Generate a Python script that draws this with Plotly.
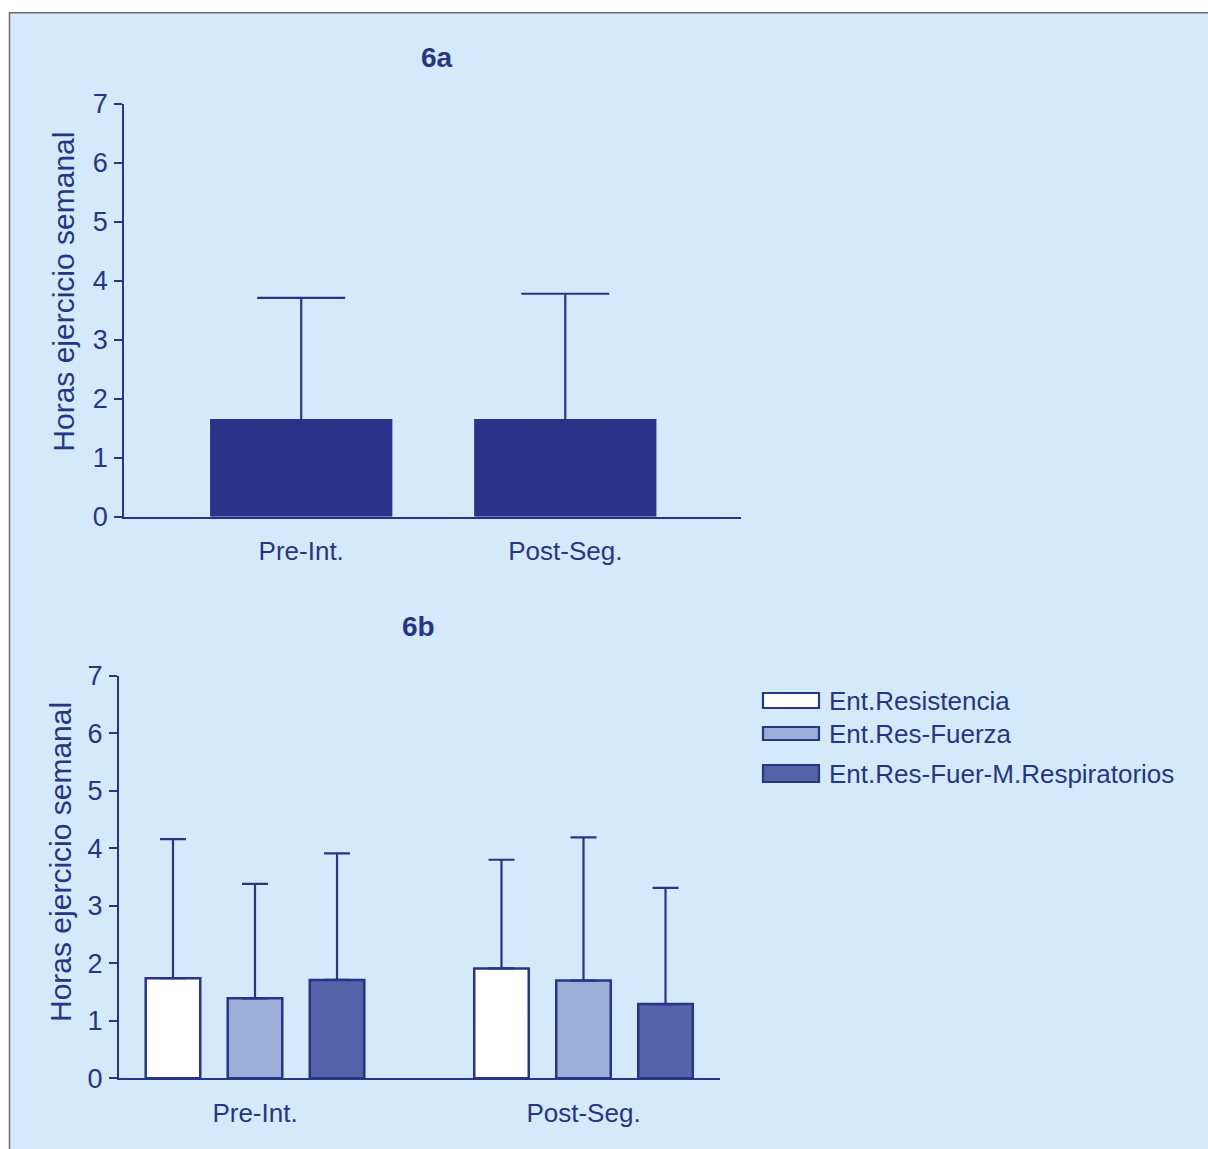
import plotly.graph_objects as go

# ---- data -----------------------------------------------------------------
categories = ["Pre-Int.", "Post-Seg."]

# 6a: total weekly exercise hours (mean and SD)
total_mean = [1.63, 1.63]
total_sd = [2.08, 2.15]

# 6b: weekly exercise hours by training group (mean and SD)
series_names = ["Ent.Resistencia", "Ent.Res-Fuerza", "Ent.Res-Fuer-M.Respiratorios"]
resistencia_mean = [1.74, 1.91]
resistencia_sd = [2.42, 1.89]
fuerza_mean = [1.39, 1.70]
fuerza_sd = [1.99, 2.49]
respiratorios_mean = [1.71, 1.29]
respiratorios_sd = [2.20, 2.02]

y_ticks = [0, 1, 2, 3, 4, 5, 6, 7]
y_title = "Horas ejercicio semanal"
panel_titles = ["6a", "6b"]

# ---- style ----------------------------------------------------------------
W, H = 1208, 1149
FONT = "Liberation Sans, Arial, sans-serif"
NAVY = "#283587"
BAR_6A = "#283389"
BG = "#d4eafa"
series_colors = ["#ffffff", "#9aaed8", "#5462a8"]


def px(x):
    return x / W


def py(y):
    return 1 - y / H


fig = go.Figure()

# the outline in the fill colour hides the lower error-bar cap on the bar top
fig.add_trace(go.Bar(
    x=categories, y=total_mean, width=0.679,
    marker=dict(color=BAR_6A, line=dict(color=BAR_6A, width=3)),
    error_y=dict(type="data", symmetric=False, array=total_sd,
                 arrayminus=[0] * len(total_sd),
                 color=NAVY, thickness=2.2, width=44),
    xaxis="x", yaxis="y", showlegend=False,
))

for name, mean, sd, color in zip(
        series_names,
        [resistencia_mean, fuerza_mean, respiratorios_mean],
        [resistencia_sd, fuerza_sd, respiratorios_sd],
        series_colors):
    fig.add_trace(go.Bar(
        x=categories, y=mean, name=name,
        marker=dict(color=color, line=dict(color=NAVY, width=2.5)),
        error_y=dict(type="data", symmetric=False, array=sd,
                     arrayminus=[0] * len(sd),
                     color=NAVY, thickness=2.2, width=13),
        xaxis="x2", yaxis="y2", showlegend=False,
    ))

xcommon = dict(
    type="category", showline=True, linecolor=NAVY, linewidth=2.2,
    ticks="outside", ticklen=10, tickcolor="rgba(0,0,0,0)",
    tickfont=dict(size=26, color=NAVY, family=FONT),
    showgrid=False, zeroline=False, automargin=False, fixedrange=True,
)
ycommon = dict(
    range=[0, 7], tickvals=y_ticks, showline=True, linecolor=NAVY,
    linewidth=2.2, ticks="outside", ticklen=8, tickwidth=2.2,
    tickcolor=NAVY, ticklabelstandoff=1,
    tickfont=dict(size=27, color=NAVY, family=FONT),
    showgrid=False, zeroline=False, automargin=False, fixedrange=True,
)

fig.update_layout(
    width=W, height=H, autosize=False,
    margin=dict(l=0, r=0, t=0, b=0, pad=0),
    paper_bgcolor="#ffffff", plot_bgcolor="rgba(0,0,0,0)",
    font=dict(family=FONT, color=NAVY),
    barmode="group", bargap=0.251, bargroupgap=0.335,
    xaxis=dict(xcommon, domain=[px(124.3), px(741)], anchor="y",
               range=[-0.670, 1.6655]),
    yaxis=dict(ycommon, domain=[py(516.5), py(104)], anchor="x"),
    xaxis2=dict(xcommon, domain=[px(119), px(720)], anchor="y2",
                range=[-0.414, 1.4155]),
    yaxis2=dict(ycommon, domain=[py(1078.3), py(675.7)], anchor="x2"),
    showlegend=False,
)

# framed light-blue panel behind both charts
shapes = [dict(type="rect", xref="paper", yref="paper",
               x0=px(9.5), x1=px(W + 20), y0=py(H + 20), y1=py(12.7),
               fillcolor=BG, line=dict(color="#6b6b6b", width=1.5),
               layer="below")]

annotations = [
    dict(text=f"<b>{panel_titles[0]}</b>", xref="paper", yref="paper",
         x=px(437.5), y=py(58), xanchor="center", yanchor="middle",
         showarrow=False, font=dict(size=28, color=NAVY, family=FONT)),
    dict(text=f"<b>{panel_titles[1]}</b>", xref="paper", yref="paper",
         x=px(418), y=py(626), xanchor="center", yanchor="middle",
         showarrow=False, font=dict(size=28, color=NAVY, family=FONT)),
    # vertical axis titles
    dict(text=y_title, xref="paper", yref="paper", textangle=-90,
         x=px(64), y=py(291.7), xanchor="center", yanchor="middle",
         showarrow=False, font=dict(size=30, color=NAVY, family=FONT)),
    dict(text=y_title, xref="paper", yref="paper", textangle=-90,
         x=px(60), y=py(862), xanchor="center", yanchor="middle",
         showarrow=False, font=dict(size=30, color=NAVY, family=FONT)),
]

# legend for 6b: wide swatches followed by the series names
legend_rows = [(693, 708), (727, 740), (765, 782)]
for name, color, (top, bottom) in zip(series_names, series_colors, legend_rows):
    shapes.append(dict(type="rect", xref="paper", yref="paper",
                       x0=px(763), x1=px(819), y0=py(bottom), y1=py(top),
                       fillcolor=color, line=dict(color=NAVY, width=2.2)))
    annotations.append(dict(text=name, xref="paper", yref="paper",
                            x=px(826.5), y=py((top + bottom) / 2),
                            xanchor="left", yanchor="middle", showarrow=False,
                            font=dict(size=26, color=NAVY, family=FONT)))

fig.update_layout(shapes=shapes, annotations=annotations)

fig.write_html("out.html")
